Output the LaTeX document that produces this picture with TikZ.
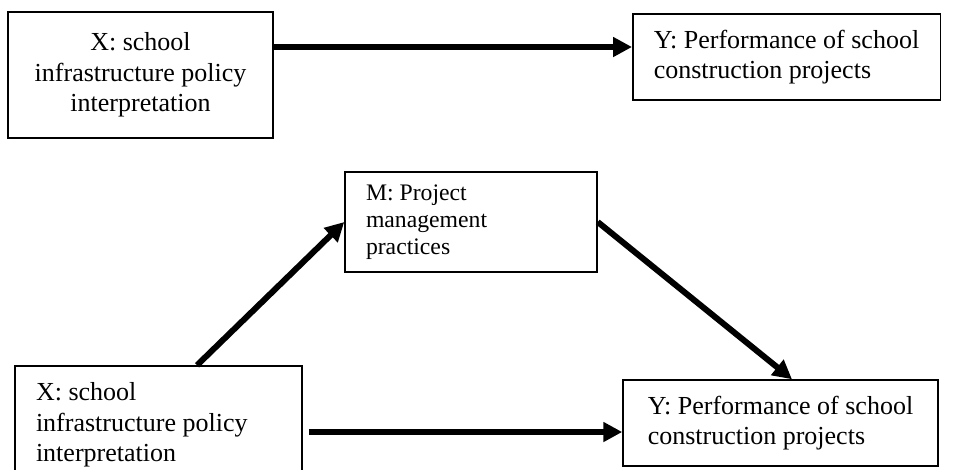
\documentclass[tikz,border=0pt]{standalone}
\usepackage{fontspec}
\setmainfont{Liberation Serif}
\usetikzlibrary{arrows.meta}
\tikzstyle{varbox} = [rectangle, 
draw=black, 
line width=1.5pt, 
inner xsep=21pt, 
inner ysep=0pt, 
font=\fontsize{26}{30.5}\selectfont]
\tikzstyle{arrow} = [line width=6pt,-{Triangle[length=19pt,width=19pt]}]

\begin{document}
\begin{tikzpicture}[x=1pt, y=-1pt]
			\clip (0,0) rectangle (960,469);
			% direct effect
			\node (X1)[varbox, minimum width=265pt, minimum height=126pt, align=center] at (140.5,75) {X: school\\infrastructure policy\\interpretation};
			\node (Y1)[varbox, minimum width=307pt, minimum height=86pt, align=flush left] at (786.5,57) {Y: Performance of school\\construction projects};
			\draw [arrow] ([yshift=28pt]X1.east) -- ([yshift=10pt]Y1.west);
			
			% mediated effect
			\node (M)[varbox, minimum width=252pt, minimum height=100pt, text width=210pt, align=flush left, font=\fontsize{23.7}{27}\selectfont] at (471,222) {M: Project\\management\\practices};
			\node (X2)[varbox, minimum width=287pt, minimum height=118pt, text width=245pt, align=flush left] at (158.5,425) {X: school\\infrastructure policy\\interpretation};
			\node (Y2)[varbox, minimum width=315pt, minimum height=86pt, align=flush left] at (780.5,423) {Y: Performance of school\\construction projects};
			\draw [arrow] ([xshift=38.5pt]X2.north) -- (M.west);
			\draw [arrow] (M.east) -- ([xshift=11.5pt]Y2.north);
			\draw [arrow] ([xshift=6pt,yshift=-7pt]X2.east) -- ([yshift=-9pt]Y2.west);
		\end{tikzpicture}
\end{document}
